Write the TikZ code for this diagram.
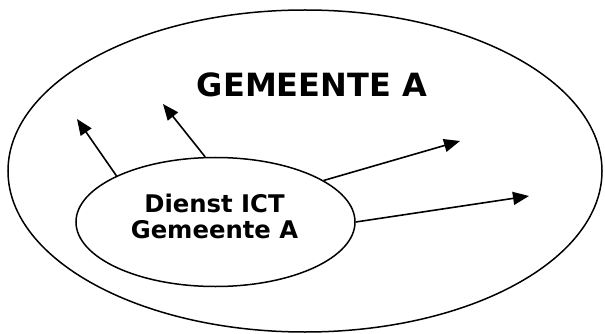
\documentclass[tikz,border=0pt]{standalone}
\usepackage{fontspec}
\setmainfont{DejaVu Sans}
\usetikzlibrary{shapes.geometric,arrows.meta}
\tikzset{
  ring/.style={draw=black, line width=1.5pt, ellipse, inner sep=0pt},
  flow/.style={draw=black, line width=1.6pt, -{Triangle[length=16pt,width=13pt]}},
  titletext/.style={font=\fontsize{32}{38}\selectfont\bfseries, inner sep=0pt},
  innertext/.style={font=\fontsize{24.3}{26}\selectfont\bfseries, align=center, inner sep=0pt}
}
\begin{document}
\begin{tikzpicture}[x=1pt,y=-1pt]
\useasboundingbox (0,0) rectangle (605,334);
\fill[white] (0,0) rectangle (605,334);
\node[ring, minimum width=594pt, minimum height=322pt] (gemeente) at (305,171) {};
\node[titletext, anchor=base] (title) at (312,97) {GEMEENTE A};
\node[ring, minimum width=279pt, minimum height=129pt] (dienst) at (215.5,222) {};
\node[innertext] (dienstlabel) at (214.5,216.5) {Dienst ICT\\Gemeente A};
\coordinate (t1) at (77,119);
\coordinate (t2) at (163,104);
\coordinate (t3) at (460,141);
\coordinate (t4) at (529,196);
\draw[flow] (dienst.155.9) -- (t1);
\draw[flow] (dienst.99.3) -- (t2);
\draw[flow] (dienst.21.4) -- (t3);
\draw[flow] (dienst.0) -- (t4);
\end{tikzpicture}
\end{document}
